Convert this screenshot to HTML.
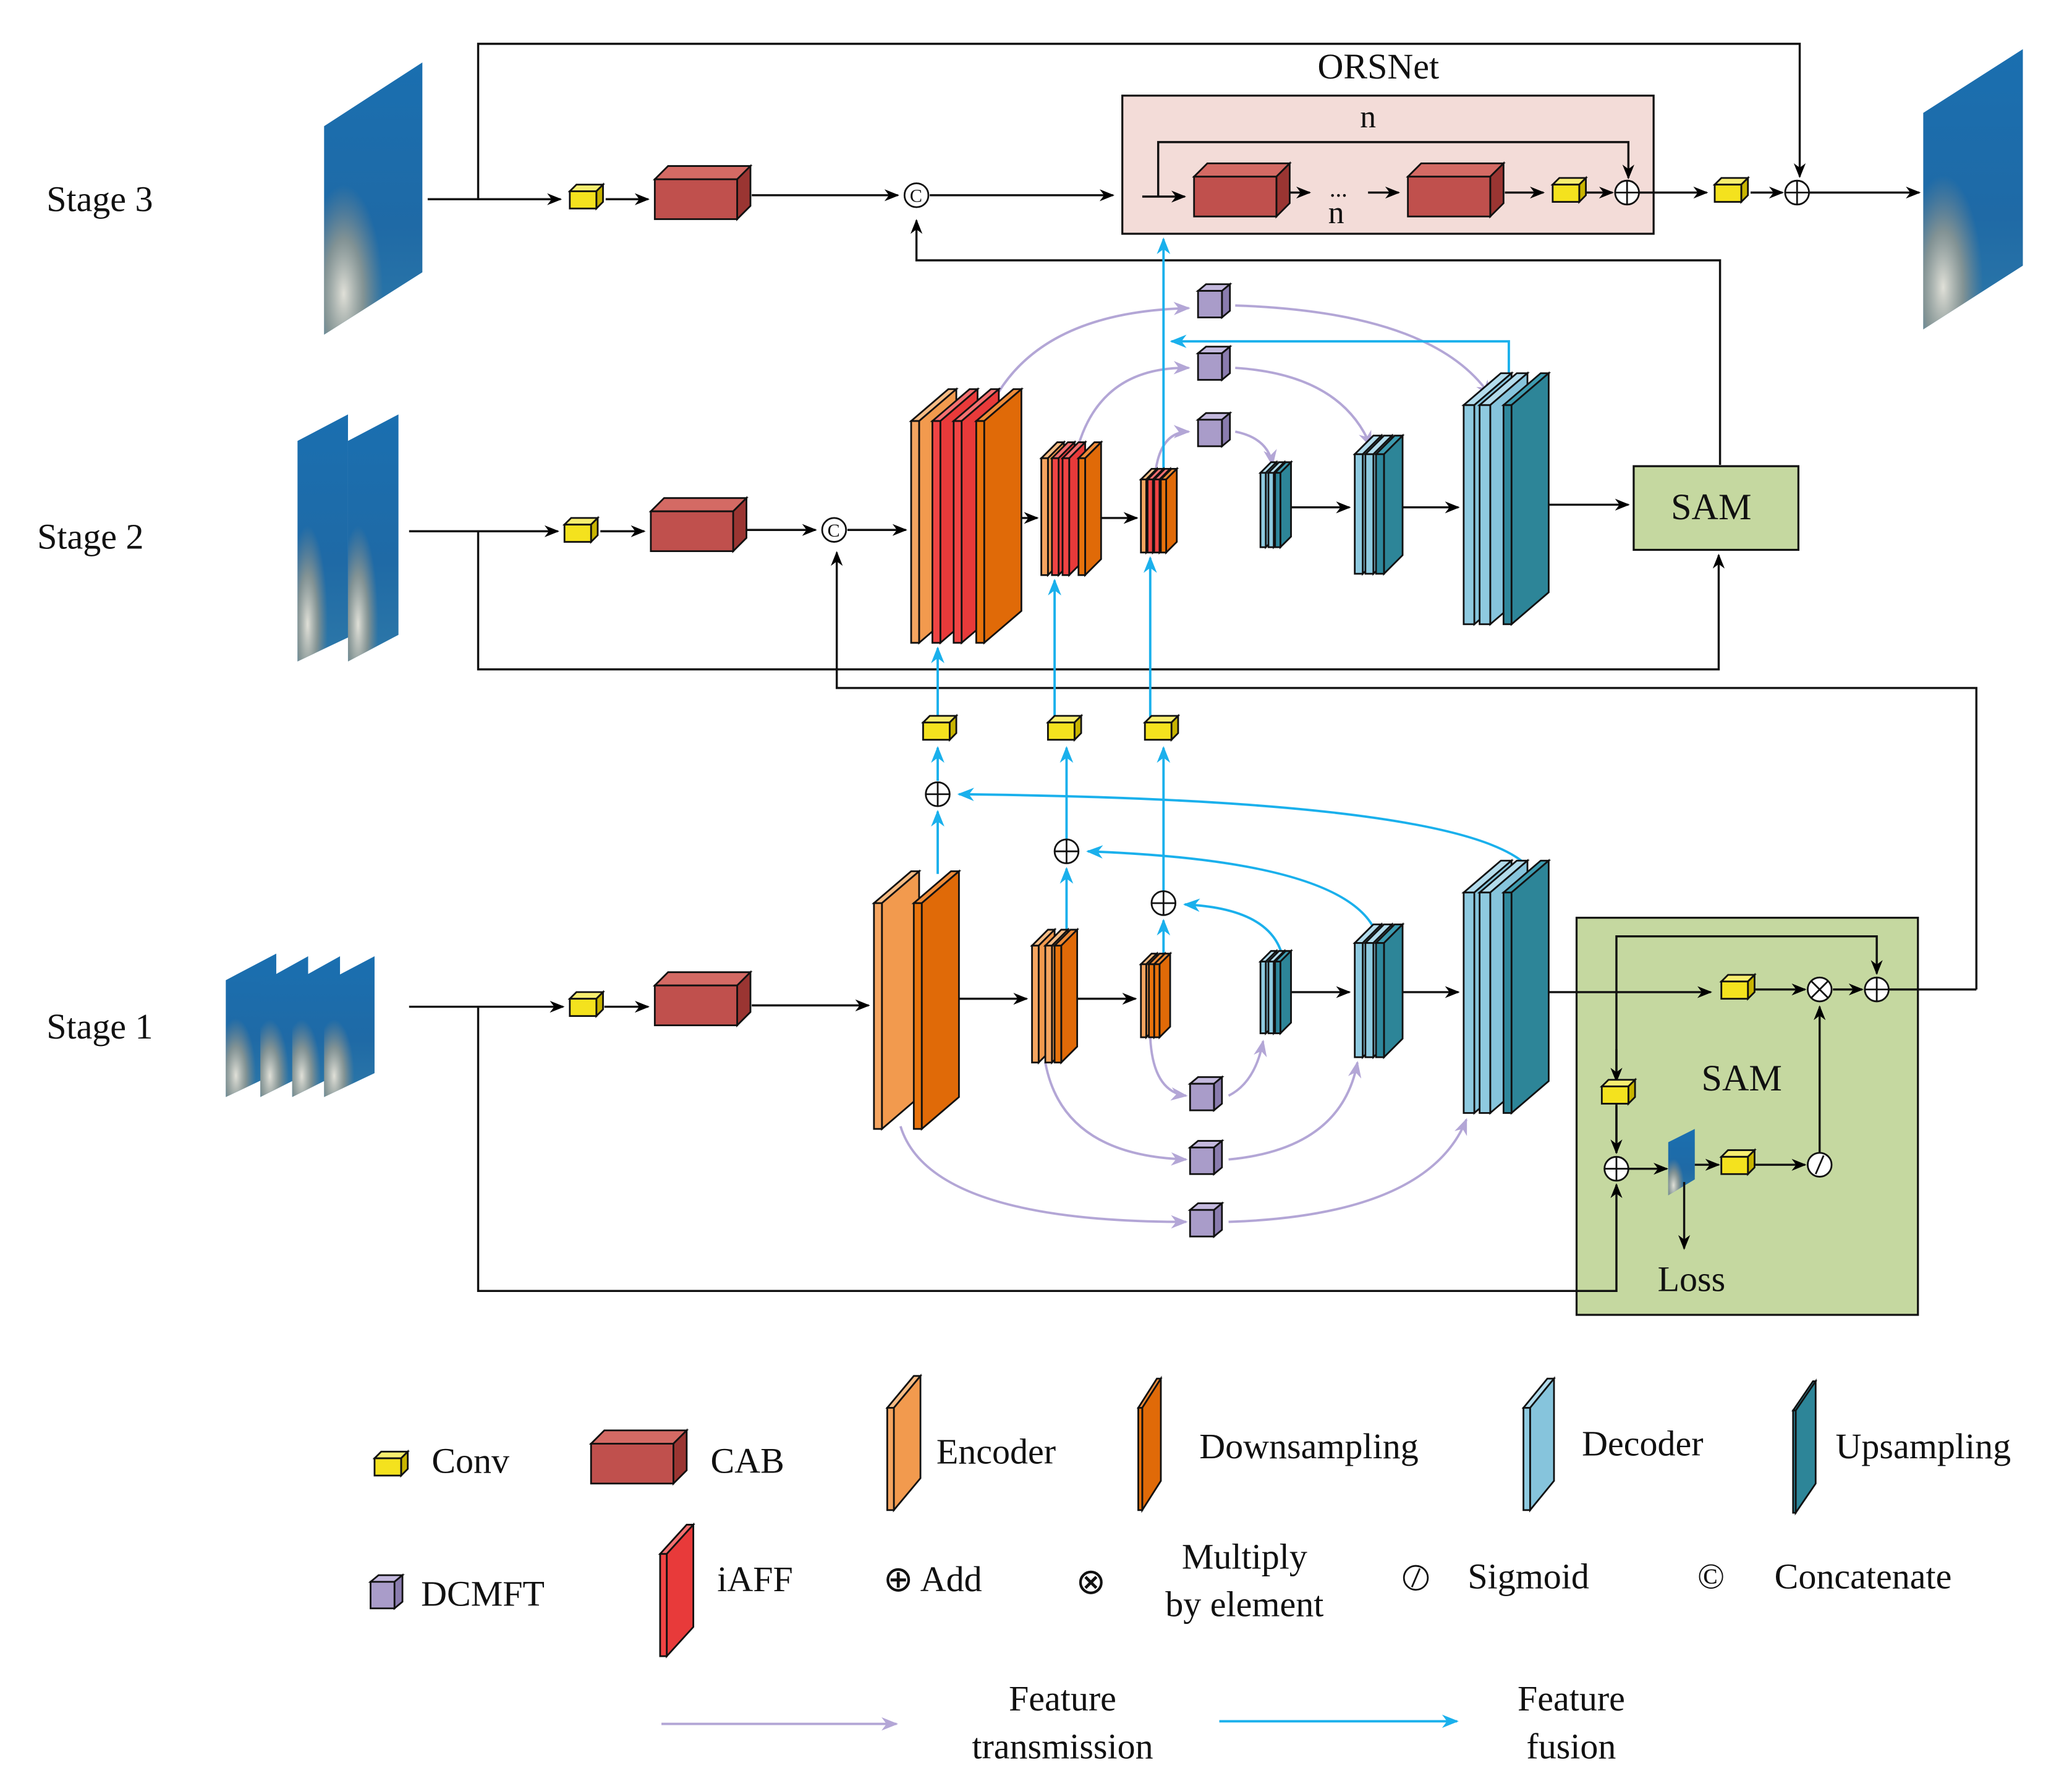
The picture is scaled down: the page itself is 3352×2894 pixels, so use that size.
<!DOCTYPE html>
<html><head><meta charset="utf-8"><style>
html,body{margin:0;padding:0;background:#fff}
svg{display:block}
text{font-family:"Liberation Serif",serif;fill:#111}
</style></head><body>
<svg id="s" width="3352" height="2894" viewBox="0 0 1560 1347" preserveAspectRatio="none" xmlns="http://www.w3.org/2000/svg">
<defs>
<marker id="ak" viewBox="0 0 10 10" refX="9" refY="5" markerWidth="7" markerHeight="7" orient="auto"><path d="M0,1 L10,5 L0,9 L3,5z" fill="#000"/></marker>
<marker id="ab" viewBox="0 0 10 10" refX="9" refY="5" markerWidth="7" markerHeight="7" orient="auto"><path d="M0,1 L10,5 L0,9 L3,5z" fill="#1ab0ec"/></marker>
<marker id="ap" viewBox="0 0 10 10" refX="9" refY="5" markerWidth="7" markerHeight="7" orient="auto"><path d="M0,1 L10,5 L0,9 L3,5z" fill="#b3a6d6"/></marker>
<linearGradient id="sea" x1="0" y1="0" x2="0" y2="1"><stop offset="0" stop-color="#1a6fb0"/><stop offset="0.6" stop-color="#1f6aa6"/><stop offset="1" stop-color="#2d78a8"/></linearGradient>
<radialGradient id="rock" cx="0.2" cy="0.85" r="0.4"><stop offset="0" stop-color="#e0e0d8"/><stop offset="0.5" stop-color="#9a9c90" stop-opacity="0.8"/><stop offset="1" stop-color="#8a8c84" stop-opacity="0"/></radialGradient>
</defs>
<g id="g" stroke-linejoin="miter"></g>

<g font-size="27">
<text x="35" y="159">Stage 3</text>
<text x="28" y="413">Stage 2</text>
<text x="35" y="782">Stage 1</text>
<text x="992" y="59">ORSNet</text>
<text x="1024" y="96" font-size="24">n</text>
<text x="1000" y="168" font-size="24">n</text>
<text x="1001" y="148" font-size="18">...</text>
<text x="1258" y="391" font-size="28">SAM</text>
<text x="1281" y="821" font-size="28">SAM</text>
<text x="1248" y="972">Loss</text>
<text x="325" y="1109">Conv</text>
<text x="535" y="1109">CAB</text>
<text x="705" y="1102">Encoder</text>
<text x="903" y="1098">Downsampling</text>
<text x="1191" y="1096">Decoder</text>
<text x="1382" y="1098">Upsampling</text>
<text x="317" y="1209">DCMFT</text>
<text x="540" y="1198">iAFF</text>
<text x="665" y="1198">⊕ Add</text>
<text x="810" y="1200">⊗</text>
<text x="937" y="1181" text-anchor="middle">Multiply</text>
<text x="937" y="1217" text-anchor="middle">by element</text>
<text x="1105" y="1196">Sigmoid</text>
<text x="1278" y="1196">©</text>
<text x="1336" y="1196">Concatenate</text>
<text x="800" y="1288" text-anchor="middle">Feature</text>
<text x="800" y="1324" text-anchor="middle">transmission</text>
<text x="1183" y="1288" text-anchor="middle">Feature</text>
<text x="1183" y="1324" text-anchor="middle">fusion</text>
</g>
</svg>
<script>
var NS="http://www.w3.org/2000/svg",G=document.getElementById("g");
function el(t,a){var e=document.createElementNS(NS,t);for(var k in a)e.setAttribute(k,a[k]);G.appendChild(e);return e;}
function P(pts,f){return el("polygon",{points:pts,fill:f,stroke:"#111","stroke-width":1.3});}
function box(x,y,w,h,d,dy,f,t,s){P(x+","+y+" "+(x+d)+","+(y-dy)+" "+(x+w+d)+","+(y-dy)+" "+(x+w)+","+y,t);
P((x+w)+","+y+" "+(x+w+d)+","+(y-dy)+" "+(x+w+d)+","+(y+h-dy)+" "+(x+w)+","+(y+h),s);el("rect",{x:x,y:y,width:w,height:h,fill:f,stroke:"#111","stroke-width":1.3});}
function conv(cx,cy){box(cx-11,cy-6,20,13,5,5,"#f4e21e","#f8ee70","#c8b400");}
function cab(x,y){box(x,y-15,62,30,10,10,"#c0504d","#d46a64","#9a3532");}
function dcm(cx,cy){box(cx-11,cy-9,18,20,6,5,"#a99cc9","#c4b9de","#8a7cae");}
var C={enc:["#f5a560","#f8bc84","#f29a4e"],dn:["#e8730c","#f08c38","#e06a08"],ia:["#f04444","#f57070","#e83a3a"],de:["#8ecae0","#b3dcec","#86c4dc"],up:["#2e879c","#3e9bb0","#2d8598"]};
function L(x,y,h,w,d,dy,c){var k=C[c];box(x,y,w,h,d,dy,k[0],k[1],k[2]);}
function line(d,col,m,w){return el("path",{d:d,fill:"none",stroke:col,"stroke-width":w||1.6,"marker-end":m?"url(#"+m+")":""});}
function K(d,a){line(d,"#111",a===false?null:"ak");}
function B(d,a){line(d,"#1ab0ec",a===false?null:"ab",1.8);}
function Pu(d,a){line(d,"#b3a6d6",a===false?null:"ap",1.8);}
function circ(cx,cy,type){el("circle",{cx:cx,cy:cy,r:9,fill:"#fff",stroke:"#111","stroke-width":1.3});
 if(type=="+"){el("path",{d:"M"+(cx-9)+","+cy+"h18M"+cx+","+(cy-9)+"v18",stroke:"#111","stroke-width":1.3});}
 if(type=="x"){el("path",{d:"M"+(cx-6)+","+(cy-6)+"l12,12M"+(cx+6)+","+(cy-6)+"l-12,12",stroke:"#111","stroke-width":1.3});}
 if(type=="s"){el("path",{d:"M"+(cx-3)+","+(cy+7)+"L"+(cx+3)+","+(cy-7),stroke:"#111","stroke-width":1.3});}
 if(type=="c"){el("text",{x:cx-5,y:cy+5,"font-size":14}).textContent="C";}}
function img(pts){var p=P(pts,"url(#sea)");p.setAttribute("stroke","none");var q=P(pts,"url(#rock)");q.setAttribute("stroke","none");}

el("rect",{x:845,y:72,width:400,height:104,fill:"#f3dcd8",stroke:"#111","stroke-width":1.5});
el("rect",{x:1187,y:691,width:257,height:299,fill:"#c5d8a0",stroke:"#111","stroke-width":1.5});
el("rect",{x:1230,y:351,width:124,height:63,fill:"#c5d8a0",stroke:"#111","stroke-width":1.5});

img("244,95 318,47 318,205 244,252");
img("1448,85 1523,37 1523,200 1448,248");
img("224,332 262,312 262,480 224,498");img("262,332 300,312 300,478 262,498");
img("170,738 208,718 208,808 170,826");img("196,740 232,720 232,808 196,826");img("220,740 256,720 256,808 220,826");img("244,740 282,720 282,808 244,826");
img("1256,860 1276,850 1276,888 1256,900");

K("M360,150 V33 H1355 V133");
K("M322,150 H422");K("M456,150 H488");K("M566,147 H676");K("M700,147 H838");
K("M872,148 V107 H1226 V134");K("M860,148 H892");K("M970,145 H986");K("M1030,145 H1053");K("M1133,145 H1162");K("M1193,145 H1214");
K("M1234,145 H1285");K("M1318,145 H1342");K("M1362,145 H1445");
K("M1295,350 V196 H690 V166");
K("M308,400 H420");K("M452,400 H485");K("M562,399 H614");K("M638,399 H682");
K("M360,400 V504 H1294 V418");K("M1488,745 V518 H630 V416");
K("M752,390 H781");K("M818,390 H856");K("M970,382 H1016");K("M1056,382 H1098");K("M1150,380 H1226");
K("M308,758 H424");K("M455,758 H488");K("M566,757 H654");
K("M706,752 H773");K("M805,752 H855");K("M970,747 H1016");K("M1056,747 H1098");K("M1150,747 H1288");
K("M1320,745 H1359");K("M1380,745 H1402");K("M1422,745 H1488",false);
K("M1217,868 V705 H1413 V733");K("M1217,790 V814");K("M1217,833 V868");
K("M1226,880 H1255");K("M1276,877 H1294");K("M1320,877 H1359");K("M1370,868 V758");K("M1268,890 V940");
K("M360,758 V972 H1217 V892");

Pu("M740,320 Q770,235 895,232");Pu("M930,230 Q1080,235 1122,298");
Pu("M812,335 Q830,276 895,277");Pu("M930,277 Q1010,282 1032,336");
Pu("M870,355 Q874,325 895,325");Pu("M930,325 Q955,330 958,350");
Pu("M678,848 Q700,920 893,920");Pu("M925,920 Q1075,915 1104,843");
Pu("M787,800 Q800,870 893,873");Pu("M925,873 Q1010,865 1022,800");
Pu("M866,781 Q868,822 893,825");Pu("M925,825 Q945,815 951,784");

B("M1150,652 Q1100,602 722,598");B("M1035,700 Q1010,648 819,641");B("M965,718 Q955,684 892,681");
B("M1136,283 V257 H882");
B("M706,658 V611");B("M706,588 V563");B("M706,542 V488");
B("M803,700 V654");B("M803,632 V563");B("M794,542 V437");
B("M876,718 V693");B("M876,671 V563");B("M866,542 V420");
B("M876,358 V180");

circ(690,147,"c");circ(628,399,"c");circ(1225,145,"+");circ(1353,145,"+");
circ(706,598,"+");circ(803,641,"+");circ(876,680,"+");
circ(1370,745,"x");circ(1413,745,"+");circ(1217,880,"+");circ(1370,877,"s");

conv(440,150);conv(1180,145);conv(1302,145);conv(436,401);conv(440,758);
conv(706,550);conv(800,550);conv(873,550);conv(1307,745);conv(1217,824);conv(1307,877);
cab(493,150);cab(899,148);cab(1060,148);cab(490,400);cab(493,757);
dcm(913,228);dcm(913,275);dcm(913,325);dcm(907,825);dcm(907,873);dcm(907,920);

L(686,317,167,6,28,24,"enc");L(702,317,167,6,28,24,"ia");L(718,317,167,6,28,24,"ia");L(735,317,167,6,28,24,"dn");
L(784,345,88,5,12,12,"enc");L(792,345,88,5,12,12,"ia");L(800,345,88,5,12,12,"ia");L(812,345,88,5,12,12,"dn");
L(859,361,55,4,8,8,"enc");L(864,361,55,4,8,8,"ia");L(869,361,55,4,8,8,"ia");L(874,361,55,4,8,8,"dn");
L(949,356,56,4,8,8,"de");L(955,356,56,4,8,8,"de");L(960,356,56,4,8,8,"up");
L(1020,342,90,6,14,14,"de");L(1028,342,90,6,14,14,"de");L(1036,342,90,6,14,14,"up");
L(1102,305,165,8,28,24,"de");L(1114,305,165,8,28,24,"de");L(1132,305,165,6,28,24,"up");
L(658,680,170,6,28,24,"enc");L(688,680,170,6,28,24,"dn");
L(777,712,88,5,12,12,"enc");L(787,712,88,5,12,12,"enc");L(794,712,88,5,12,12,"dn");
L(859,726,55,4,8,8,"enc");L(865,726,55,4,8,8,"dn");L(869,726,55,4,8,8,"dn");
L(949,724,54,4,8,8,"de");L(955,724,54,4,8,8,"de");L(960,724,54,4,8,8,"up");
L(1020,710,86,6,14,14,"de");L(1028,710,86,6,14,14,"de");L(1036,710,86,6,14,14,"up");
L(1102,672,166,8,28,24,"de");L(1114,672,166,8,28,24,"de");L(1132,672,166,6,28,24,"up");

conv(293,1104);cab(445,1102);
L(668,1060,77,5,20,24,"enc");L(857,1060,77,3,14,22,"dn");
L(1147,1060,77,5,18,22,"de");L(1350,1062,77,2,15,22,"up");
dcm(290,1200);L(497,1170,77,5,20,22,"ia");
el("circle",{cx:1066,cy:1188,r:9,fill:"#fff",stroke:"#111","stroke-width":1.3});el("path",{d:"M1063,1195 L1069,1181",stroke:"#111","stroke-width":1.3});
Pu("M498,1298 H675");B("M918,1296 H1097");
</script>
</body></html>
